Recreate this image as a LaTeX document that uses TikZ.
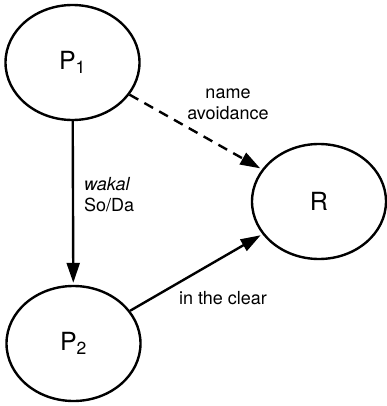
\documentclass[tikz,border=0pt]{standalone}
\usepackage{fontspec}
\setmainfont{TeX Gyre Heros}
\usepackage{tikz}
\usetikzlibrary{shapes.geometric,arrows.meta,positioning}
\tikzset{
  party/.style={ellipse, draw=black, line width=2.4pt, minimum width=134pt, minimum height=115pt, inner sep=0pt, font=\fontsize{25}{28}\selectfont},
  lbl/.style={inner sep=0pt, align=center, font=\fontsize{18}{21}\selectfont},
  flow/.style={line width=2.4pt, -{Triangle[length=20pt,width=13pt]}, shorten >=2pt},
  avoid/.style={flow, dash pattern=on 10pt off 7pt},
}

\begin{document}
\begin{tikzpicture}[x=1pt,y=1pt]
  \useasboundingbox (0,0) rectangle (386,-406);
  \node[party] (p1) at (72.5,-62.5) {P\textsubscript{1}};
  \node[party] (p2) at (73.5,-343.5) {P\textsubscript{2}};
  \node[party] (r) at (319,-201.5) {R};
  \node[lbl, align=left, anchor=west] (wk) at (84,-195) {\textit{wakal}\\So/Da};
  \node[lbl] (na) at (228,-104) {name\\avoidance};
  \node[lbl] (ic) at (223,-298) {in the clear};
  \draw[flow] (p1) -- (p2);
  \draw[avoid] (p1) -- (r);
  \draw[flow] (p2) -- (r);
\end{tikzpicture}
\end{document}
